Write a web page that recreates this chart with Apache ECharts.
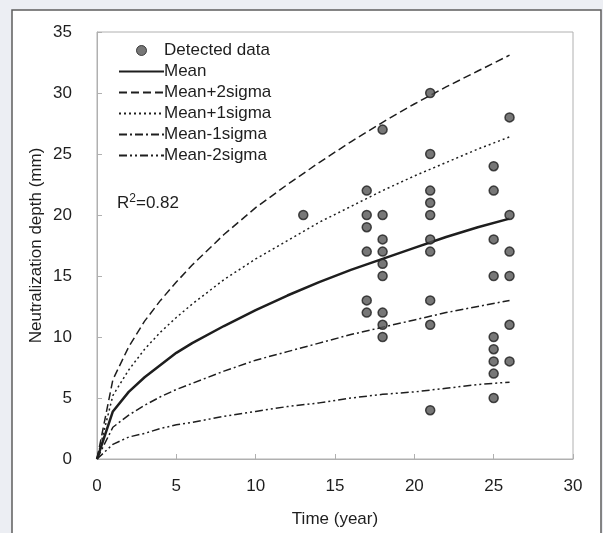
<!DOCTYPE html>
<html>
<head>
<meta charset="utf-8">
<script src="https://cdn.jsdelivr.net/npm/echarts@6/dist/echarts.min.js"></script>
<style>
html,body{margin:0;padding:0;background:#eceef3;}
#c{width:603px;height:533px;}
</style>
</head>
<body>
<div id="c"></div>
<script>
// Detected data (time in years, depth in mm)
var detectedX = [13,
  17,17,17,17,17,17,
  18,18,18,18,18,18,18,18,18,
  21,21,21,21,21,21,21,21,21,21,
  25,25,25,25,25,25,25,25,25,
  26,26,26,26,26,26];
var detectedY = [20,
  22,20,19,17,13,12,
  27,20,18,17,16,15,12,11,10,
  30,25,22,21,20,18,17,13,11,4,
  24,22,18,15,10,9,8,7,5,
  28,20,17,15,11,8];

// Model curves
var years       = [0, 1,   2,   3,   4,    5,    6,    8,    10,   12,   14,   16,   18,   20,   22,   24,   26];
var meanLine    = [0, 3.9, 5.5, 6.7, 7.7,  8.7,  9.5,  10.9, 12.2, 13.4, 14.5, 15.5, 16.4, 17.3, 18.2, 19.0, 19.7];
var plus2Sigma  = [0, 6.5, 9.2, 11.3,13.0, 14.5, 15.9, 18.4, 20.6, 22.5, 24.3, 26.0, 27.6, 29.1, 30.5, 31.8, 33.1];
var plus1Sigma  = [0, 5.2, 7.3, 9.0, 10.4, 11.6, 12.7, 14.7, 16.4, 17.9, 19.4, 20.7, 22.0, 23.2, 24.3, 25.4, 26.4];
var minus1Sigma = [0, 2.6, 3.6, 4.4, 5.1,  5.7,  6.2,  7.2,  8.1,  8.8,  9.5,  10.2, 10.8, 11.4, 12.0, 12.5, 13.0];
var minus2Sigma = [0, 1.2, 1.8, 2.1, 2.5,  2.8,  3.0,  3.5,  3.9,  4.3,  4.6,  5.0,  5.3,  5.5,  5.8,  6.1,  6.3];

var seriesNames = ['Detected data','Mean','Mean+2sigma','Mean+1sigma','Mean-1sigma','Mean-2sigma'];
var r2Text = '0.82';

function pairs(xs, ys){ return xs.map(function(x,i){ return [x, ys[i]]; }); }

var FONT = '"Liberation Sans", Arial, sans-serif';
var INK = '#1e1e1e';
var FS = 17;

function lineSeries(name, data, width, dash){
  return {
    name: name, type: 'line', data: pairs(years, data),
    symbol: 'none', showSymbol: false, smooth: false,
    lineStyle: { color: INK, width: width, type: dash },
    itemStyle: { color: INK },
    z: 2
  };
}
function legendLine(name){
  return { name: name, itemStyle: { opacity: 0, color: 'transparent', borderWidth: 0 } };
}

var chart = echarts.init(document.getElementById('c'));
chart.setOption({
  backgroundColor: '#eceef3',
  animation: false,
  graphic: [
    { type: 'rect', z: -10, shape: { x: 12, y: 10, width: 589, height: 540 },
      style: { fill: '#ffffff', stroke: '#5e5e5e', lineWidth: 1.5 } },
    { type: 'text', left: 117, top: 193, z: 10,
      style: { text: 'R{sup|2}=' + r2Text, font: FS + 'px ' + FONT, fill: INK,
        rich: { sup: { fontSize: 12, verticalAlign: 'top', padding: [0,0,9,0], fill: INK, fontFamily: FONT } } } }
  ],
  grid: { left: 97, right: 30, top: 32, bottom: 73, show: true, borderColor: '#b0b0b0', borderWidth: 1, backgroundColor: 'transparent' },
  legend: {
    orient: 'vertical', left: 113, top: 37, itemWidth: 45, itemHeight: 10, itemGap: 4,
    data: [
      { name: 'Detected data', icon: 'circle', itemStyle: { color: '#555', borderColor: INK, borderWidth: 1 } },
      legendLine('Mean'), legendLine('Mean+2sigma'), legendLine('Mean+1sigma'),
      legendLine('Mean-1sigma'), legendLine('Mean-2sigma')
    ],
    textStyle: { fontSize: FS, color: INK, fontFamily: FONT, padding: [0,0,0,-5] }
  },
  xAxis: {
    type: 'value', min: 0, max: 30, interval: 5,
    name: 'Time (year)', nameLocation: 'middle', nameGap: 52,
    nameTextStyle: { fontSize: FS, color: INK, fontFamily: FONT },
    axisLine: { show: true, lineStyle: { color: '#b0b0b0' } },
    axisTick: { show: true, inside: true, length: 5, lineStyle: { color: '#b0b0b0' } },
    axisLabel: { fontSize: FS, color: INK, fontFamily: FONT, margin: 19 },
    splitLine: { show: false }
  },
  yAxis: {
    type: 'value', min: 0, max: 35, interval: 5,
    name: 'Neutralization depth (mm)', nameLocation: 'middle', nameGap: 52, nameMoveOverlap: false,
    nameTextStyle: { fontSize: FS, color: INK, fontFamily: FONT },
    axisLine: { show: true, lineStyle: { color: '#b0b0b0' } },
    axisTick: { show: true, inside: true, length: 5, lineStyle: { color: '#b0b0b0' } },
    axisLabel: { fontSize: FS, color: INK, fontFamily: FONT, margin: 25 },
    splitLine: { show: false }
  },
  series: [
    { name: 'Detected data', type: 'scatter', data: pairs(detectedX, detectedY),
      symbol: 'circle', symbolSize: 9,
      itemStyle: { color: '#555', borderColor: INK, borderWidth: 1.5 }, z: 5 },
    lineSeries('Mean', meanLine, 2.5, 'solid'),
    lineSeries('Mean+2sigma', plus2Sigma, 1.5, [8,4]),
    lineSeries('Mean+1sigma', plus1Sigma, 1.5, [2,3]),
    lineSeries('Mean-1sigma', minus1Sigma, 1.5, [8,3,2,3]),
    lineSeries('Mean-2sigma', minus2Sigma, 1.5, [8,3,2,3,2,3])
  ]
});
</script>
</body>
</html>
